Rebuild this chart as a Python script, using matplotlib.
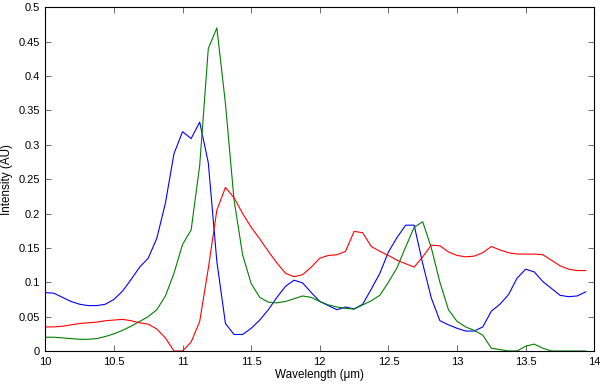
import numpy as np
import matplotlib
matplotlib.use("Agg")
import matplotlib.pyplot as plt

plt.rcParams['font.family'] = ['Liberation Sans', 'DejaVu Sans']

wavelength = 10.0 + 0.0625 * np.arange(64)

blue = [0.085, 0.084, 0.078, 0.072, 0.068, 0.066, 0.066, 0.068, 0.075, 0.087,
        0.104, 0.122, 0.135, 0.164, 0.215, 0.287, 0.319, 0.309, 0.333, 0.274,
        0.130, 0.040, 0.024, 0.024, 0.033, 0.045, 0.060, 0.078, 0.094, 0.103,
        0.099, 0.085, 0.072, 0.066, 0.060, 0.064, 0.061, 0.068, 0.090, 0.113,
        0.144, 0.165, 0.183, 0.183, 0.127, 0.077, 0.044, 0.038, 0.033, 0.029,
        0.029, 0.035, 0.058, 0.068, 0.082, 0.106, 0.119, 0.115, 0.101, 0.091,
        0.081, 0.079, 0.080, 0.086]

green = [0.020, 0.020, 0.019, 0.018, 0.017, 0.017, 0.018, 0.021, 0.025, 0.030,
         0.036, 0.043, 0.050, 0.060, 0.080, 0.113, 0.155, 0.176, 0.270, 0.440,
         0.470, 0.360, 0.220, 0.140, 0.098, 0.078, 0.071, 0.070, 0.072, 0.076,
         0.080, 0.078, 0.072, 0.067, 0.064, 0.062, 0.061, 0.067, 0.073, 0.081,
         0.100, 0.121, 0.151, 0.180, 0.188, 0.150, 0.100, 0.060, 0.043, 0.035,
         0.030, 0.023, 0.004, 0.002, 0.000, 0.000, 0.007, 0.010, 0.004, 0.000,
         0.000, 0.000, 0.000, 0.000]

red = [0.035, 0.035, 0.036, 0.038, 0.040, 0.041, 0.042, 0.044, 0.045, 0.046,
       0.044, 0.041, 0.039, 0.032, 0.019, 0.000, 0.000, 0.013, 0.043, 0.120,
       0.205, 0.238, 0.223, 0.200, 0.180, 0.163, 0.145, 0.128, 0.113, 0.108,
       0.111, 0.122, 0.135, 0.139, 0.140, 0.145, 0.174, 0.172, 0.152, 0.145,
       0.139, 0.132, 0.127, 0.122, 0.137, 0.154, 0.153, 0.144, 0.139, 0.137,
       0.138, 0.143, 0.152, 0.147, 0.143, 0.141, 0.141, 0.141, 0.140, 0.132,
       0.124, 0.119, 0.117, 0.117]

xticks = [10, 10.5, 11, 11.5, 12, 12.5, 13, 13.5, 14]
xticklabels = ['10', '10.5', '11', '11.5', '12', '12.5', '13', '13.5', '14']
yticks = [0, 0.05, 0.1, 0.15, 0.2, 0.25, 0.3, 0.35, 0.4, 0.45, 0.5]
yticklabels = ['0', '0.05', '0.1', '0.15', '0.2', '0.25', '0.3', '0.35', '0.4', '0.45', '0.5']

fig = plt.figure(figsize=(6, 3.84), dpi=100)
ax = fig.add_axes([0.0755, 0.086, 0.915, 0.895])

ax.plot(wavelength, blue, color=(0, 0, 1), lw=0.8)
ax.plot(wavelength, green, color=(0, 0.5, 0), lw=0.8)
ax.plot(wavelength, red, color=(1, 0, 0), lw=0.8)

ax.set_xlim(10, 14)
ax.set_ylim(0, 0.5)
ax.set_xticks(xticks)
ax.set_xticklabels(xticklabels)
ax.set_yticks(yticks)
ax.set_yticklabels(yticklabels)
ax.tick_params(direction='in', top=True, right=True, labelsize=8, length=4,
               width=0.6, pad=4, color='#555555')
for s in ax.spines.values():
    s.set_linewidth(0.8)
ax.set_xlabel('Wavelength (\u03bcm)', fontsize=8.4, labelpad=2)
ax.set_ylabel('Intensity (AU)', fontsize=8.4, labelpad=4)

fig.savefig('out.png', dpi=100)
